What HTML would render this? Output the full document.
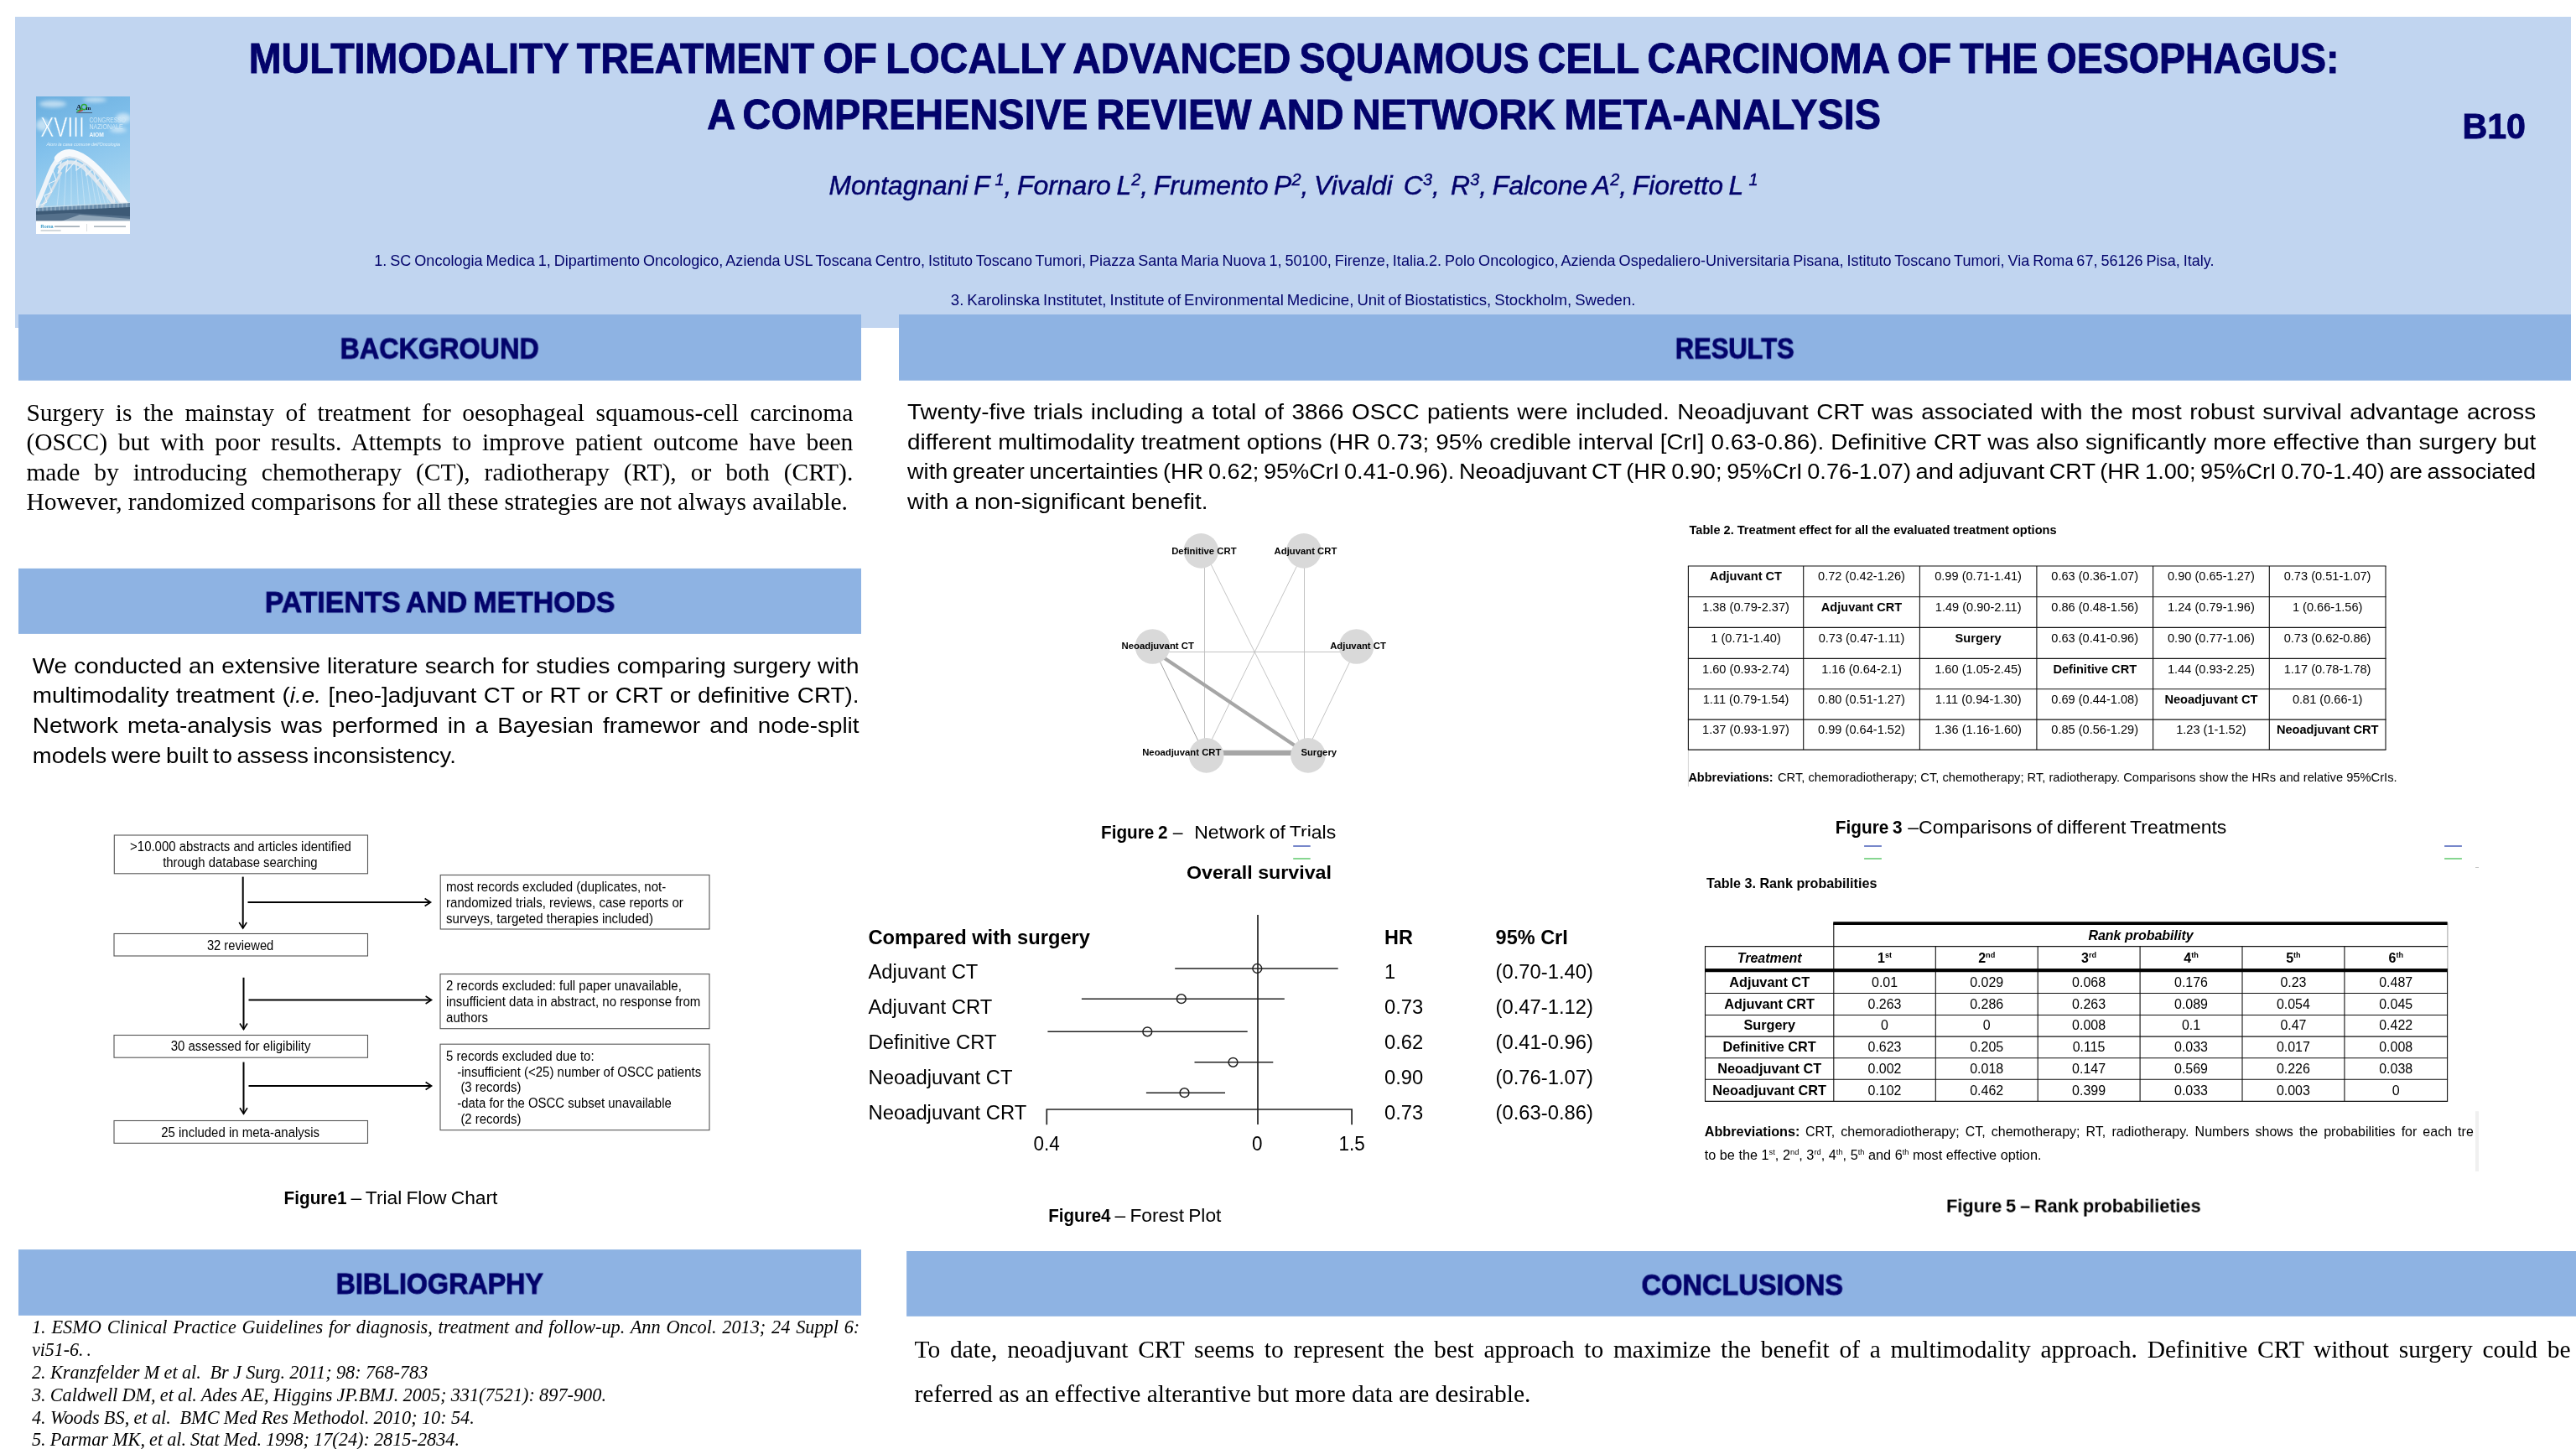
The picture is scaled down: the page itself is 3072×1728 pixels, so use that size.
<!DOCTYPE html>
<html lang="en">
<head>
<meta charset="utf-8">
<title>Multimodality treatment of locally advanced squamous cell carcinoma of the oesophagus</title>
<style>
html,body{margin:0;padding:0;background:#fff;}
body{width:3072px;height:1728px;overflow:hidden;font-family:"Liberation Sans",sans-serif;}
svg{display:block;will-change:transform;}
text{white-space:pre;}
.s{font-family:"Liberation Sans",sans-serif;}
.f{font-family:"Liberation Serif",serif;}
</style>
</head>
<body>
<svg width="3072" height="1728" viewBox="0 0 3072 1728">
<rect x="18.0" y="20.0" width="3048.0" height="371.0" fill="#c1d5f0"/>
<text class="s" font-size="50.10" font-weight="bold" fill="#03036b" transform="translate(296.8,86.9) scale(0.9291,1)" word-spacing="-3.006" stroke="#03036b" stroke-width="0.9">MULTIMODALITY TREATMENT OF LOCALLY ADVANCED SQUAMOUS CELL CARCINOMA OF THE OESOPHAGUS:</text>
<text class="s" font-size="50.10" font-weight="bold" fill="#03036b" transform="translate(843.2,154.3) scale(0.9363,1)" word-spacing="-3.006" stroke="#03036b" stroke-width="0.9">A COMPREHENSIVE REVIEW AND NETWORK META-ANALYSIS</text>
<text class="s" font-size="42.80" font-weight="bold" fill="#03036b" x="2936.5" y="165.1" textLength="75.5" lengthAdjust="spacingAndGlyphs" stroke="#03036b" stroke-width="0.9">B10</text>
<text class="s" font-size="31.30" font-style="italic" fill="#03036b" transform="translate(988.5,231.5) scale(1.0146,1)" word-spacing="-2.191" stroke="#03036b" stroke-width="0.45"><tspan>Montagnani F <tspan font-size="19.5" dy="-10.8">1</tspan><tspan dy="10.8" font-size="31.5">, Fornaro L</tspan><tspan font-size="19.5" dy="-10.8">2</tspan><tspan dy="10.8" font-size="31.5">, Frumento P</tspan><tspan font-size="19.5" dy="-10.8">2</tspan><tspan dy="10.8" font-size="31.5">, Vivaldi  C</tspan><tspan font-size="19.5" dy="-10.8">3</tspan><tspan dy="10.8" font-size="31.5">,  R</tspan><tspan font-size="19.5" dy="-10.8">3</tspan><tspan dy="10.8" font-size="31.5">, Falcone A</tspan><tspan font-size="19.5" dy="-10.8">2</tspan><tspan dy="10.8" font-size="31.5">, Fioretto L </tspan><tspan font-size="19.5" dy="-10.8">1</tspan><tspan dy="10.8" font-size="31.5"></tspan></text>
<text class="s" font-size="18.20" fill="#03036b" transform="translate(446.3,317.0) scale(0.9927,1)" word-spacing="-1.092">1. SC Oncologia Medica 1, Dipartimento Oncologico, Azienda USL Toscana Centro, Istituto Toscano Tumori, Piazza Santa Maria Nuova 1, 50100, Firenze, Italia.2. Polo Oncologico, Azienda Ospedaliero-Universitaria Pisana, Istituto Toscano Tumori, Via Roma 67, 56126 Pisa, Italy.</text>
<text class="s" font-size="18.20" fill="#03036b" transform="translate(1133.8,363.5) scale(1.0218,1)" word-spacing="-1.092">3. Karolinska Institutet, Institute of Environmental Medicine, Unit of Biostatistics, Stockholm, Sweden.</text>
<g id="logo" transform="translate(43,115)">
<defs><linearGradient id="sky" x1="0" y1="0" x2="0.25" y2="1"><stop offset="0" stop-color="#6aaede"/><stop offset="0.4" stop-color="#82c1ec"/><stop offset="0.8" stop-color="#a3d3f0"/><stop offset="1" stop-color="#b4dbf2"/></linearGradient><clipPath id="lc"><rect x="0" y="0" width="112" height="164"/></clipPath><filter id="bl" x="-20%" y="-20%" width="140%" height="140%"><feGaussianBlur stdDeviation="2.2"/></filter></defs>
<g clip-path="url(#lc)">
<rect x="0" y="0" width="112" height="164" fill="url(#sky)"/>
<g filter="url(#bl)" fill="#fff" opacity="0.55"><ellipse cx="20" cy="9" rx="16" ry="4"/><ellipse cx="70" cy="4" rx="14" ry="3"/><ellipse cx="104" cy="26" rx="9" ry="6"/><ellipse cx="8" cy="34" rx="8" ry="7"/><ellipse cx="98" cy="40" rx="10" ry="3"/></g>
<g transform="translate(0,4)">
<g stroke="#eef5fa" stroke-width="0.5" opacity="0.8"><line x1="30" y1="78" x2="24" y2="138"/><line x1="36" y1="76" x2="33" y2="138"/><line x1="42" y1="76" x2="42" y2="138"/><line x1="48" y1="78" x2="51" y2="138"/><line x1="54" y1="82" x2="59" y2="138"/><line x1="60" y1="87" x2="67" y2="138"/><line x1="66" y1="93" x2="74" y2="138"/><line x1="72" y1="100" x2="80" y2="138"/><line x1="78" y1="108" x2="86" y2="138"/><line x1="84" y1="116" x2="91" y2="138"/><line x1="90" y1="124" x2="96" y2="138"/></g>
<path d="M27 82 C35 72 47 72 58 82 C76 99 92 122 104 142" fill="none" stroke="#dbe6ef" stroke-width="4.5"/>
<g stroke="#e6eef5" stroke-width="1.3" fill="none"><path d="M20 80 L30 74 L26 88 L38 72 L36 86 L48 72 L48 84 L58 76 L60 90 L68 82 L72 98 L78 92 L84 110 L88 102 L94 122"/></g>
<path d="M30 86 C24 98 18 112 4 132" fill="none" stroke="#d5e1eb" stroke-width="3"/>
<g stroke="#f1f6fa" stroke-width="1" fill="none"><path d="M20 84 L24 96 L15 100 L19 110 L10 114 L13 122 L4 126"/></g>
<path d="M-2 131 C8 112 12 96 20 80 C24 72 30 66 38 64" fill="none" stroke="#eef4f9" stroke-width="5.5" stroke-linecap="round"/>
<path d="M26 70 C32 63 40 62 48 65 C68 72 92 102 114 137" fill="none" stroke="#f6f9fc" stroke-width="8.5" stroke-linecap="round"/>
<path d="M30 72 C36 68 42 68 48 70 C66 77 88 104 109 138" fill="none" stroke="#d9e4ee" stroke-width="2"/>
</g>
<path d="M0 133 L112 127 L112 149 L0 149 Z" fill="#6a8caa"/>
<path d="M0 137 L112 132 L112 149 L0 149 Z" fill="#3d5a76"/>
<path d="M0 141 L40 139 L112 143 L112 149 L0 149 Z" fill="#54708b"/>
<path d="M30 149 L52 141 L112 146 L112 149 Z" fill="#8fa5b8"/>
<g stroke="#d7e2ea" stroke-width="0.7" opacity="0.8"><line x1="0" y1="132" x2="112" y2="126.5"/><line x1="3" y1="131.8" x2="3" y2="136.9"/><line x1="8" y1="131.6" x2="8" y2="136.6"/><line x1="13" y1="131.3" x2="13" y2="136.4"/><line x1="18" y1="131.1" x2="18" y2="136.2"/><line x1="23" y1="130.8" x2="23" y2="136.0"/><line x1="28" y1="130.6" x2="28" y2="135.7"/><line x1="33" y1="130.3" x2="33" y2="135.5"/><line x1="38" y1="130.1" x2="38" y2="135.3"/><line x1="43" y1="129.8" x2="43" y2="135.1"/><line x1="48" y1="129.6" x2="48" y2="134.8"/><line x1="53" y1="129.3" x2="53" y2="134.6"/><line x1="58" y1="129.1" x2="58" y2="134.4"/><line x1="63" y1="128.8" x2="63" y2="134.2"/><line x1="68" y1="128.6" x2="68" y2="133.9"/><line x1="73" y1="128.3" x2="73" y2="133.7"/><line x1="78" y1="128.1" x2="78" y2="133.5"/><line x1="83" y1="127.8" x2="83" y2="133.3"/><line x1="88" y1="127.6" x2="88" y2="133.0"/><line x1="93" y1="127.3" x2="93" y2="132.8"/><line x1="98" y1="127.1" x2="98" y2="132.6"/><line x1="103" y1="126.8" x2="103" y2="132.4"/><line x1="108" y1="126.6" x2="108" y2="132.1"/></g>
<rect x="0" y="148.4" width="112" height="16" fill="#ffffff"/>
</g>
<text class="s" x="5.2" y="48.4" font-size="34" fill="#fff" stroke="#8cc6ec" stroke-width="0.7" textLength="52.5" lengthAdjust="spacingAndGlyphs">XVIII</text>
<text class="s" x="63.4" y="31" font-size="8.6" fill="#cfe8f7" textLength="43.5" lengthAdjust="spacingAndGlyphs">CONGRESSO</text>
<text class="s" x="63.4" y="39.2" font-size="8.6" fill="#cfe8f7" textLength="40.3" lengthAdjust="spacingAndGlyphs">NAZIONALE</text>
<text class="s" x="63.4" y="48.3" font-size="7.8" font-weight="bold" fill="#f2f9fd" textLength="17.5" lengthAdjust="spacingAndGlyphs">AIOM</text>
<text class="s" x="12.4" y="58.6" font-size="5.4" font-style="italic" fill="#dff0fa" textLength="87.6" lengthAdjust="spacingAndGlyphs">Aiom la casa comune dell'Oncologia</text>
<text class="s" x="5.6" y="156.5" font-size="6.2" font-weight="bold" fill="#3a9ac8" textLength="15" lengthAdjust="spacingAndGlyphs">Roma</text>
<rect x="22" y="154.3" width="30" height="1.7" fill="#8a9aa6" opacity="0.8"/><rect x="5.6" y="159.3" width="24" height="1.3" fill="#a9b4bc" opacity="0.8"/><rect x="69" y="154.3" width="38" height="1.7" fill="#98a6b0" opacity="0.8"/><rect x="60" y="152" width="0.5" height="9" fill="#b5bcc2"/>
<text class="f" x="47.8" y="16.2" font-size="9" font-weight="bold" fill="#0d1b2a">A</text><circle cx="57.3" cy="12.6" r="3.1" fill="none" stroke="#2fa836" stroke-width="1.5"/><text class="f" x="59.6" y="16.2" font-size="7" font-weight="bold" fill="#0d1b2a">m</text>
<path d="M48 17.2 L54 14.6 L55 16.2 L49 18.4 Z" fill="#2fa836"/><path d="M50 18 L55.5 16 L56 17 L51 18.8 Z" fill="#d22"/><rect x="48" y="19" width="19" height="0.6" fill="#223"/>
</g>
<rect x="22.0" y="375.0" width="1005.0" height="78.8" fill="#8eb3e3"/>
<text class="s" font-size="34.30" font-weight="bold" fill="#03036b" transform="translate(405.5,427.5) scale(0.9435,1)" word-spacing="-2.058" stroke="#03036b" stroke-width="0.9">BACKGROUND</text>
<rect x="1072.0" y="375.0" width="1994.0" height="78.8" fill="#8eb3e3"/>
<text class="s" font-size="34.30" font-weight="bold" fill="#03036b" transform="translate(1997.8,427.5) scale(0.9001,1)" word-spacing="-2.058" stroke="#03036b" stroke-width="0.9">RESULTS</text>
<rect x="22.0" y="677.9" width="1005.0" height="78.0" fill="#8eb3e3"/>
<text class="s" font-size="34.30" font-weight="bold" fill="#03036b" transform="translate(315.8,730.1) scale(0.9850,1)" word-spacing="-2.058" stroke="#03036b" stroke-width="0.9">PATIENTS AND METHODS</text>
<rect x="22.0" y="1490.1" width="1005.0" height="78.7" fill="#8eb3e3"/>
<text class="s" font-size="34.30" font-weight="bold" fill="#03036b" transform="translate(400.6,1542.8) scale(0.9408,1)" word-spacing="-2.058" stroke="#03036b" stroke-width="0.9">BIBLIOGRAPHY</text>
<rect x="1081.1" y="1492.0" width="1990.9" height="77.8" fill="#8eb3e3"/>
<text class="s" font-size="34.30" font-weight="bold" fill="#03036b" transform="translate(1957.6,1544.2) scale(0.9486,1)" word-spacing="-2.058" stroke="#03036b" stroke-width="0.9">CONCLUSIONS</text>
<text class="f" font-size="29.50" x="31.4" y="501.5" word-spacing="6.114">Surgery is the mainstay of treatment for oesophageal squamous-cell carcinoma</text>
<text class="f" font-size="29.50" x="31.4" y="537.0" word-spacing="5.312">(OSCC) but with poor results. Attempts to improve patient outcome have been</text>
<text class="f" font-size="29.50" x="31.4" y="572.6" word-spacing="9.630">made by introducing chemotherapy (CT), radiotherapy (RT), or both (CRT).</text>
<text class="f" font-size="29.50" x="31.4" y="608.1" word-spacing="-0.220">However, randomized comparisons for all these strategies are not always available.</text>
<text class="s" font-size="26.30" transform="translate(38.8,909.5) scale(1.0431,1)" word-spacing="-1.841">models were built to assess inconsistency.</text>
<text class="s" font-size="26.30" transform="translate(38.8,802.6) scale(1.0600,1)" word-spacing="0.388">We conducted an extensive literature search for studies comparing surgery with</text>
<text class="s" font-size="26.30" transform="translate(38.8,838.2) scale(1.0600,1)" word-spacing="0.847">multimodality treatment (<tspan font-style="italic">i.e.</tspan> [neo-]adjuvant CT or RT or CRT or definitive CRT).</text>
<text class="s" font-size="26.30" transform="translate(38.8,873.8) scale(1.0600,1)" word-spacing="3.142">Network meta-analysis was performed in a Bayesian framewor and node-split</text>
<text class="s" font-size="26.30" transform="translate(1082.0,607.2) scale(1.0600,1)" word-spacing="-0.311">with a non-significant benefit.</text>
<text class="s" font-size="26.30" transform="translate(1082.0,499.8) scale(1.0600,1)" word-spacing="1.693">Twenty-five trials including a total of 3866 OSCC patients were included. Neoadjuvant CRT was associated with the most robust survival advantage across</text>
<text class="s" font-size="26.30" transform="translate(1082.0,535.5) scale(1.0600,1)" word-spacing="0.296">different multimodality treatment options (HR 0.73; 95% credible interval [CrI] 0.63-0.86). Definitive CRT was also significantly more effective than surgery but</text>
<text class="s" font-size="26.30" transform="translate(1082.0,571.1) scale(1.0321,1)" word-spacing="-1.841">with greater uncertainties (HR 0.62; 95%CrI 0.41-0.96). Neoadjuvant CT (HR 0.90; 95%CrI 0.76-1.07) and adjuvant CRT (HR 1.00; 95%CrI 0.70-1.40) are associated</text>
<rect x="136.3" y="996.0" width="302.2" height="45.8" fill="#fff" stroke="#555" stroke-width="1.1"/>
<rect x="136.0" y="1113.5" width="302.5" height="26.5" fill="#fff" stroke="#555" stroke-width="1.1"/>
<rect x="136.0" y="1234.5" width="302.5" height="26.7" fill="#fff" stroke="#555" stroke-width="1.1"/>
<rect x="136.0" y="1336.5" width="302.5" height="26.8" fill="#fff" stroke="#555" stroke-width="1.1"/>
<rect x="525.2" y="1043.5" width="320.8" height="64.5" fill="#fff" stroke="#555" stroke-width="1.1"/>
<rect x="525.0" y="1161.6" width="321.0" height="65.1" fill="#fff" stroke="#555" stroke-width="1.1"/>
<rect x="525.0" y="1245.2" width="321.0" height="102.5" fill="#fff" stroke="#555" stroke-width="1.1"/>
<text class="s" font-size="16.64" x="155.1" y="1014.7" textLength="263.8" lengthAdjust="spacingAndGlyphs">&gt;10.000 abstracts and articles identified</text>
<text class="s" font-size="16.64" x="194.2" y="1034.1" textLength="184.4" lengthAdjust="spacingAndGlyphs">through database searching</text>
<text class="s" font-size="16.64" x="246.9" y="1132.8" textLength="79.4" lengthAdjust="spacingAndGlyphs">32 reviewed</text>
<text class="s" font-size="16.64" x="203.7" y="1253.0" textLength="166.7" lengthAdjust="spacingAndGlyphs">30 assessed for eligibility</text>
<text class="s" font-size="16.64" x="192.2" y="1355.5" textLength="188.9" lengthAdjust="spacingAndGlyphs">25 included in meta-analysis</text>
<text class="s" font-size="16.64" x="532.1" y="1062.9" textLength="262.1" lengthAdjust="spacingAndGlyphs">most records excluded (duplicates, not-</text>
<text class="s" font-size="16.64" x="532.1" y="1081.8" textLength="282.7" lengthAdjust="spacingAndGlyphs">randomized trials, reviews, case reports or</text>
<text class="s" font-size="16.64" x="532.1" y="1100.7" textLength="246.9" lengthAdjust="spacingAndGlyphs">surveys, targeted therapies included)</text>
<text class="s" font-size="16.64" x="532.1" y="1181.0" textLength="280.7" lengthAdjust="spacingAndGlyphs">2 records excluded: full paper unavailable,</text>
<text class="s" font-size="16.64" x="532.1" y="1199.9" textLength="303.3" lengthAdjust="spacingAndGlyphs">insufficient data in abstract, no response from</text>
<text class="s" font-size="16.64" x="532.1" y="1218.8" textLength="49.8" lengthAdjust="spacingAndGlyphs">authors</text>
<text class="s" font-size="16.64" x="532.1" y="1264.9" textLength="176.5" lengthAdjust="spacingAndGlyphs">5 records excluded due to:</text>
<text class="s" font-size="16.64" x="545.3" y="1283.5" textLength="290.9" lengthAdjust="spacingAndGlyphs">-insufficient (&lt;25) number of OSCC patients</text>
<text class="s" font-size="16.64" x="549.4" y="1302.4" textLength="72.0" lengthAdjust="spacingAndGlyphs">(3 records)</text>
<text class="s" font-size="16.64" x="545.3" y="1320.9" textLength="255.5" lengthAdjust="spacingAndGlyphs">-data for the OSCC subset unavailable</text>
<text class="s" font-size="16.64" x="549.4" y="1339.8" textLength="72.0" lengthAdjust="spacingAndGlyphs">(2 records)</text>
<line x1="289.7" y1="1045.6" x2="289.7" y2="1107.0" stroke="#000" stroke-width="2"/>
<path d="M285.2 1100.0 L289.7 1107.0 L294.2 1100.0" fill="none" stroke="#000" stroke-width="1.6"/>
<line x1="290.5" y1="1165.8" x2="290.5" y2="1227.5" stroke="#000" stroke-width="2"/>
<path d="M286.0 1220.5 L290.5 1227.5 L295.0 1220.5" fill="none" stroke="#000" stroke-width="1.6"/>
<line x1="290.5" y1="1266.6" x2="290.5" y2="1328.3" stroke="#000" stroke-width="2"/>
<path d="M286.0 1321.3 L290.5 1328.3 L295.0 1321.3" fill="none" stroke="#000" stroke-width="1.6"/>
<line x1="295.5" y1="1076.0" x2="512.6" y2="1076.0" stroke="#000" stroke-width="2"/>
<path d="M506.6 1071.5 L513.6 1076.0 L506.6 1080.5" fill="none" stroke="#000" stroke-width="1.6"/>
<line x1="296.5" y1="1192.5" x2="513.6" y2="1192.5" stroke="#000" stroke-width="2"/>
<path d="M507.6 1188.0 L514.6 1192.5 L507.6 1197.0" fill="none" stroke="#000" stroke-width="1.6"/>
<line x1="296.5" y1="1295.0" x2="513.6" y2="1295.0" stroke="#000" stroke-width="2"/>
<path d="M507.6 1290.5 L514.6 1295.0 L507.6 1299.5" fill="none" stroke="#000" stroke-width="1.6"/>
<text class="s" font-size="22.50" font-weight="bold" x="338.6" y="1435.8" textLength="74.9" lengthAdjust="spacingAndGlyphs">Figure1</text>
<text class="s" font-size="22.50" transform="translate(418.4,1435.8) scale(1.0131,1)" word-spacing="-1.125">– Trial Flow Chart</text>
<line x1="1436.5" y1="668.0" x2="1436.5" y2="888.0" stroke="#c2c2c2" stroke-width="1"/>
<line x1="1441.3" y1="667.4" x2="1552.9" y2="891.2" stroke="#c4c4c4" stroke-width="1"/>
<line x1="1550.0" y1="668.0" x2="1441.3" y2="889.7" stroke="#c4c4c4" stroke-width="1"/>
<line x1="1555.5" y1="668.0" x2="1555.5" y2="888.0" stroke="#c2c2c2" stroke-width="1"/>
<line x1="1380.0" y1="777.5" x2="1610.0" y2="777.5" stroke="#c2c2c2" stroke-width="1"/>
<line x1="1380.4" y1="782.8" x2="1431.2" y2="888.3" stroke="#969696" stroke-width="0.9"/>
<line x1="1612.3" y1="783.9" x2="1562.5" y2="886.8" stroke="#c4c4c4" stroke-width="1"/>
<line x1="1386.2" y1="783.3" x2="1551.4" y2="894.1" stroke="#a6a6a6" stroke-width="4.2"/>
<line x1="1450.0" y1="897.8" x2="1548.6" y2="897.8" stroke="#a6a6a6" stroke-width="6.2"/>
<circle cx="1432.3" cy="656.9" r="20.8" fill="#d9d9d9"/>
<circle cx="1554.9" cy="656.9" r="20.8" fill="#d9d9d9"/>
<circle cx="1374.5" cy="771.0" r="20.8" fill="#d9d9d9"/>
<circle cx="1617.6" cy="771.0" r="20.8" fill="#d9d9d9"/>
<circle cx="1438.7" cy="900.9" r="20.8" fill="#d9d9d9"/>
<circle cx="1559.9" cy="900.9" r="20.8" fill="#d9d9d9"/>
<text class="s" font-size="11.44" font-weight="bold" x="1397.2" y="660.5" textLength="77.4" lengthAdjust="spacingAndGlyphs">Definitive CRT</text>
<text class="s" font-size="11.44" font-weight="bold" x="1519.6" y="660.5" textLength="74.7" lengthAdjust="spacingAndGlyphs">Adjuvant CRT</text>
<text class="s" font-size="11.44" font-weight="bold" x="1337.5" y="773.6" textLength="86.4" lengthAdjust="spacingAndGlyphs">Neoadjuvant CT</text>
<text class="s" font-size="11.44" font-weight="bold" x="1586.2" y="773.6" textLength="66.7" lengthAdjust="spacingAndGlyphs">Adjuvant CT</text>
<text class="s" font-size="11.44" font-weight="bold" x="1362.2" y="901.1" textLength="94.2" lengthAdjust="spacingAndGlyphs">Neoadjuvant CRT</text>
<text class="s" font-size="11.44" font-weight="bold" x="1551.4" y="901.1" textLength="42.7" lengthAdjust="spacingAndGlyphs">Surgery</text>
<text class="s" font-size="22.50" font-weight="bold" transform="translate(1313.0,1000.4) scale(0.9201,1)" word-spacing="-1.125">Figure 2</text>
<text class="s" font-size="22.50" x="1398.8" y="1000.4" textLength="11.8" lengthAdjust="spacingAndGlyphs">–</text>
<text class="s" font-size="22.50" transform="translate(1424.2,1000.4) scale(1.0224,1)" word-spacing="-1.125">Network of Trials</text>
<rect x="1541.6" y="997.3" width="21.4" height="32.7" fill="#fff"/>
<line x1="1542.2" y1="1009.0" x2="1562.7" y2="1009.0" stroke="#7787ca" stroke-width="2"/>
<line x1="1542.2" y1="1024.0" x2="1562.7" y2="1024.0" stroke="#86d690" stroke-width="2"/>
<text class="s" font-size="22.88" font-weight="bold" x="1414.9" y="1048.2" textLength="173.1" lengthAdjust="spacingAndGlyphs">Overall survival</text>
<line x1="1500.0" y1="1091.0" x2="1500.0" y2="1341.0" stroke="#222" stroke-width="1.7"/>
<text class="s" font-size="24.44" font-weight="bold" x="1035.5" y="1126.0" textLength="264.5" lengthAdjust="spacingAndGlyphs">Compared with surgery</text>
<text class="s" font-size="24.44" font-weight="bold" x="1651.0" y="1126.0" textLength="33.9" lengthAdjust="spacingAndGlyphs">HR</text>
<text class="s" font-size="24.44" font-weight="bold" x="1783.6" y="1126.0" textLength="86.2" lengthAdjust="spacingAndGlyphs">95% CrI</text>
<text class="s" font-size="24.75" x="1035.5" y="1166.8" textLength="130.9" lengthAdjust="spacingAndGlyphs">Adjuvant CT</text>
<text class="s" font-size="24.75" x="1651.0" y="1166.8" textLength="13.2" lengthAdjust="spacingAndGlyphs">1</text>
<text class="s" font-size="24.75" x="1783.6" y="1166.8" textLength="116.4" lengthAdjust="spacingAndGlyphs">(0.70-1.40)</text>
<line x1="1401.2" y1="1155.0" x2="1595.7" y2="1155.0" stroke="#222" stroke-width="1.6"/>
<circle cx="1499.3" cy="1155.0" r="5.4" fill="none" stroke="#222" stroke-width="1.5"/>
<text class="s" font-size="24.75" x="1035.5" y="1208.7" textLength="147.7" lengthAdjust="spacingAndGlyphs">Adjuvant CRT</text>
<text class="s" font-size="24.75" x="1651.0" y="1208.7" textLength="46.3" lengthAdjust="spacingAndGlyphs">0.73</text>
<text class="s" font-size="24.75" x="1783.6" y="1208.7" textLength="116.4" lengthAdjust="spacingAndGlyphs">(0.47-1.12)</text>
<line x1="1289.9" y1="1191.2" x2="1531.8" y2="1191.2" stroke="#222" stroke-width="1.6"/>
<circle cx="1408.8" cy="1191.2" r="5.4" fill="none" stroke="#222" stroke-width="1.5"/>
<text class="s" font-size="24.75" x="1035.5" y="1250.7" textLength="153.0" lengthAdjust="spacingAndGlyphs">Definitive CRT</text>
<text class="s" font-size="24.75" x="1651.0" y="1250.7" textLength="46.3" lengthAdjust="spacingAndGlyphs">0.62</text>
<text class="s" font-size="24.75" x="1783.6" y="1250.7" textLength="116.4" lengthAdjust="spacingAndGlyphs">(0.41-0.96)</text>
<line x1="1249.4" y1="1230.3" x2="1487.7" y2="1230.3" stroke="#222" stroke-width="1.6"/>
<circle cx="1368.3" cy="1230.3" r="5.4" fill="none" stroke="#222" stroke-width="1.5"/>
<text class="s" font-size="24.75" x="1035.5" y="1293.0" textLength="172.0" lengthAdjust="spacingAndGlyphs">Neoadjuvant CT</text>
<text class="s" font-size="24.75" x="1651.0" y="1293.0" textLength="46.3" lengthAdjust="spacingAndGlyphs">0.90</text>
<text class="s" font-size="24.75" x="1783.6" y="1293.0" textLength="116.4" lengthAdjust="spacingAndGlyphs">(0.76-1.07)</text>
<line x1="1424.5" y1="1266.8" x2="1518.3" y2="1266.8" stroke="#222" stroke-width="1.6"/>
<circle cx="1470.5" cy="1266.8" r="5.4" fill="none" stroke="#222" stroke-width="1.5"/>
<text class="s" font-size="24.75" x="1035.5" y="1334.6" textLength="188.7" lengthAdjust="spacingAndGlyphs">Neoadjuvant CRT</text>
<text class="s" font-size="24.75" x="1651.0" y="1334.6" textLength="46.3" lengthAdjust="spacingAndGlyphs">0.73</text>
<text class="s" font-size="24.75" x="1783.6" y="1334.6" textLength="116.4" lengthAdjust="spacingAndGlyphs">(0.63-0.86)</text>
<line x1="1366.9" y1="1303.2" x2="1461.0" y2="1303.2" stroke="#222" stroke-width="1.6"/>
<circle cx="1412.5" cy="1303.2" r="5.4" fill="none" stroke="#222" stroke-width="1.5"/>
<path d="M1248.3 1341.2 V1323 H1612.1 V1341.2" fill="none" stroke="#222" stroke-width="1.7"/>
<text class="s" font-size="23.40" x="1232.4" y="1372.2" textLength="31.3" lengthAdjust="spacingAndGlyphs">0.4</text>
<text class="s" font-size="23.40" x="1493.0" y="1372.2" textLength="12.5" lengthAdjust="spacingAndGlyphs">0</text>
<text class="s" font-size="23.40" x="1596.4" y="1372.2" textLength="31.3" lengthAdjust="spacingAndGlyphs">1.5</text>
<text class="s" font-size="22.50" font-weight="bold" x="1250.2" y="1456.9" textLength="74.4" lengthAdjust="spacingAndGlyphs">Figure4</text>
<text class="s" font-size="22.50" transform="translate(1329.6,1456.9) scale(1.0127,1)" word-spacing="-1.125">– Forest Plot</text>
<text class="s" font-size="14.56" font-weight="bold" x="2014.5" y="637.3" textLength="438.1" lengthAdjust="spacingAndGlyphs">Table 2. Treatment effect for all the evaluated treatment options</text>
<line x1="2013.4" y1="675.0" x2="2013.4" y2="894.1" stroke="#111" stroke-width="1.1"/>
<line x1="2150.7" y1="675.0" x2="2150.7" y2="894.1" stroke="#111" stroke-width="1.1"/>
<line x1="2289.4" y1="675.0" x2="2289.4" y2="894.1" stroke="#111" stroke-width="1.1"/>
<line x1="2428.9" y1="675.0" x2="2428.9" y2="894.1" stroke="#111" stroke-width="1.1"/>
<line x1="2567.6" y1="675.0" x2="2567.6" y2="894.1" stroke="#111" stroke-width="1.1"/>
<line x1="2706.3" y1="675.0" x2="2706.3" y2="894.1" stroke="#111" stroke-width="1.1"/>
<line x1="2845.0" y1="675.0" x2="2845.0" y2="894.1" stroke="#111" stroke-width="1.1"/>
<line x1="2012.9" y1="675.0" x2="2845.5" y2="675.0" stroke="#111" stroke-width="1.1"/>
<line x1="2012.9" y1="711.7" x2="2845.5" y2="711.7" stroke="#111" stroke-width="1.1"/>
<line x1="2012.9" y1="748.4" x2="2845.5" y2="748.4" stroke="#111" stroke-width="1.1"/>
<line x1="2012.9" y1="785.4" x2="2845.5" y2="785.4" stroke="#111" stroke-width="1.1"/>
<line x1="2012.9" y1="821.7" x2="2845.5" y2="821.7" stroke="#111" stroke-width="1.1"/>
<line x1="2012.9" y1="858.1" x2="2845.5" y2="858.1" stroke="#111" stroke-width="1.1"/>
<line x1="2012.9" y1="894.1" x2="2845.5" y2="894.1" stroke="#111" stroke-width="1.1"/>
<text class="s" font-size="15.18" font-weight="bold" x="2039.1" y="692.1" textLength="85.9" lengthAdjust="spacingAndGlyphs">Adjuvant CT</text>
<text class="s" font-size="15.18" x="2168.1" y="692.1" textLength="103.8" lengthAdjust="spacingAndGlyphs">0.72 (0.42-1.26)</text>
<text class="s" font-size="15.18" x="2307.2" y="692.1" textLength="103.8" lengthAdjust="spacingAndGlyphs">0.99 (0.71-1.41)</text>
<text class="s" font-size="15.18" x="2446.3" y="692.1" textLength="103.8" lengthAdjust="spacingAndGlyphs">0.63 (0.36-1.07)</text>
<text class="s" font-size="15.18" x="2585.0" y="692.1" textLength="103.8" lengthAdjust="spacingAndGlyphs">0.90 (0.65-1.27)</text>
<text class="s" font-size="15.18" x="2723.7" y="692.1" textLength="103.8" lengthAdjust="spacingAndGlyphs">0.73 (0.51-1.07)</text>
<text class="s" font-size="15.18" x="2030.1" y="728.8" textLength="103.8" lengthAdjust="spacingAndGlyphs">1.38 (0.79-2.37)</text>
<text class="s" font-size="15.18" font-weight="bold" x="2171.8" y="728.8" textLength="96.5" lengthAdjust="spacingAndGlyphs">Adjuvant CRT</text>
<text class="s" font-size="15.18" x="2307.8" y="728.8" textLength="102.7" lengthAdjust="spacingAndGlyphs">1.49 (0.90-2.11)</text>
<text class="s" font-size="15.18" x="2446.3" y="728.8" textLength="103.8" lengthAdjust="spacingAndGlyphs">0.86 (0.48-1.56)</text>
<text class="s" font-size="15.18" x="2585.0" y="728.8" textLength="103.8" lengthAdjust="spacingAndGlyphs">1.24 (0.79-1.96)</text>
<text class="s" font-size="15.18" x="2733.9" y="728.8" textLength="83.5" lengthAdjust="spacingAndGlyphs">1 (0.66-1.56)</text>
<text class="s" font-size="15.18" x="2040.3" y="765.5" textLength="83.5" lengthAdjust="spacingAndGlyphs">1 (0.71-1.40)</text>
<text class="s" font-size="15.18" x="2168.7" y="765.5" textLength="102.7" lengthAdjust="spacingAndGlyphs">0.73 (0.47-1.11)</text>
<text class="s" font-size="15.18" font-weight="bold" x="2331.6" y="765.5" textLength="55.1" lengthAdjust="spacingAndGlyphs">Surgery</text>
<text class="s" font-size="15.18" x="2446.3" y="765.5" textLength="103.8" lengthAdjust="spacingAndGlyphs">0.63 (0.41-0.96)</text>
<text class="s" font-size="15.18" x="2585.0" y="765.5" textLength="103.8" lengthAdjust="spacingAndGlyphs">0.90 (0.77-1.06)</text>
<text class="s" font-size="15.18" x="2723.7" y="765.5" textLength="103.8" lengthAdjust="spacingAndGlyphs">0.73 (0.62-0.86)</text>
<text class="s" font-size="15.18" x="2030.1" y="802.5" textLength="103.8" lengthAdjust="spacingAndGlyphs">1.60 (0.93-2.74)</text>
<text class="s" font-size="15.18" x="2172.2" y="802.5" textLength="95.7" lengthAdjust="spacingAndGlyphs">1.16 (0.64-2.1)</text>
<text class="s" font-size="15.18" x="2307.2" y="802.5" textLength="103.8" lengthAdjust="spacingAndGlyphs">1.60 (1.05-2.45)</text>
<text class="s" font-size="15.18" font-weight="bold" x="2448.4" y="802.5" textLength="99.7" lengthAdjust="spacingAndGlyphs">Definitive CRT</text>
<text class="s" font-size="15.18" x="2585.0" y="802.5" textLength="103.8" lengthAdjust="spacingAndGlyphs">1.44 (0.93-2.25)</text>
<text class="s" font-size="15.18" x="2723.7" y="802.5" textLength="103.8" lengthAdjust="spacingAndGlyphs">1.17 (0.78-1.78)</text>
<text class="s" font-size="15.18" x="2030.7" y="838.8" textLength="102.7" lengthAdjust="spacingAndGlyphs">1.11 (0.79-1.54)</text>
<text class="s" font-size="15.18" x="2168.1" y="838.8" textLength="103.8" lengthAdjust="spacingAndGlyphs">0.80 (0.51-1.27)</text>
<text class="s" font-size="15.18" x="2307.8" y="838.8" textLength="102.7" lengthAdjust="spacingAndGlyphs">1.11 (0.94-1.30)</text>
<text class="s" font-size="15.18" x="2446.3" y="838.8" textLength="103.8" lengthAdjust="spacingAndGlyphs">0.69 (0.44-1.08)</text>
<text class="s" font-size="15.18" font-weight="bold" x="2581.4" y="838.8" textLength="111.1" lengthAdjust="spacingAndGlyphs">Neoadjuvant CT</text>
<text class="s" font-size="15.18" x="2733.9" y="838.8" textLength="83.5" lengthAdjust="spacingAndGlyphs">0.81 (0.66-1)</text>
<text class="s" font-size="15.18" x="2030.1" y="875.2" textLength="103.8" lengthAdjust="spacingAndGlyphs">1.37 (0.93-1.97)</text>
<text class="s" font-size="15.18" x="2168.1" y="875.2" textLength="103.8" lengthAdjust="spacingAndGlyphs">0.99 (0.64-1.52)</text>
<text class="s" font-size="15.18" x="2307.2" y="875.2" textLength="103.8" lengthAdjust="spacingAndGlyphs">1.36 (1.16-1.60)</text>
<text class="s" font-size="15.18" x="2446.3" y="875.2" textLength="103.8" lengthAdjust="spacingAndGlyphs">0.85 (0.56-1.29)</text>
<text class="s" font-size="15.18" x="2595.2" y="875.2" textLength="83.5" lengthAdjust="spacingAndGlyphs">1.23 (1-1.52)</text>
<text class="s" font-size="15.18" font-weight="bold" x="2714.9" y="875.2" textLength="121.6" lengthAdjust="spacingAndGlyphs">Neoadjuvant CRT</text>
<line x1="2013.4" y1="895.0" x2="2013.4" y2="938.0" stroke="#d4d4d4" stroke-width="1"/>
<text class="s" font-size="15.18" font-weight="bold" x="2013.4" y="932.2" textLength="101.3" lengthAdjust="spacingAndGlyphs">Abbreviations:</text>
<text class="s" font-size="15.18" x="2120.0" y="932.2" textLength="738.6" lengthAdjust="spacingAndGlyphs">CRT, chemoradiotherapy; CT, chemotherapy; RT, radiotherapy. Comparisons show the HRs and relative 95%CrIs.</text>
<text class="s" font-size="22.50" font-weight="bold" transform="translate(2188.8,993.5) scale(0.9247,1)" word-spacing="-1.125">Figure 3</text>
<text class="s" font-size="22.50" transform="translate(2275.3,993.5) scale(1.0200,1)" word-spacing="-1.125">–Comparisons of different Treatments</text>
<line x1="2223.1" y1="1009.0" x2="2243.9" y2="1009.0" stroke="#7787ca" stroke-width="2"/>
<line x1="2223.1" y1="1024.0" x2="2243.9" y2="1024.0" stroke="#86d690" stroke-width="2"/>
<line x1="2915.1" y1="1009.0" x2="2935.9" y2="1009.0" stroke="#7787ca" stroke-width="2"/>
<line x1="2915.1" y1="1024.0" x2="2935.9" y2="1024.0" stroke="#86d690" stroke-width="2"/>
<line x1="2952.0" y1="1034.5" x2="2956.0" y2="1034.5" stroke="#c4c4c4" stroke-width="1"/>
<text class="s" font-size="16.64" font-weight="bold" x="2035.0" y="1058.7" textLength="203.4" lengthAdjust="spacingAndGlyphs">Table 3. Rank probabilities</text>
<line x1="2033.5" y1="1128.6" x2="2033.5" y2="1313.4" stroke="#111" stroke-width="1.1"/>
<line x1="2186.8" y1="1100.6" x2="2186.8" y2="1313.4" stroke="#111" stroke-width="1.1"/>
<line x1="2308.3" y1="1128.6" x2="2308.3" y2="1313.4" stroke="#111" stroke-width="1.1"/>
<line x1="2430.2" y1="1128.6" x2="2430.2" y2="1313.4" stroke="#111" stroke-width="1.1"/>
<line x1="2552.1" y1="1128.6" x2="2552.1" y2="1313.4" stroke="#111" stroke-width="1.1"/>
<line x1="2674.0" y1="1128.6" x2="2674.0" y2="1313.4" stroke="#111" stroke-width="1.1"/>
<line x1="2795.9" y1="1128.6" x2="2795.9" y2="1313.4" stroke="#111" stroke-width="1.1"/>
<line x1="2918.6" y1="1100.6" x2="2918.6" y2="1313.4" stroke="#111" stroke-width="1.1"/>
<line x1="2918.6" y1="1100.6" x2="2918.6" y2="1155.7" stroke="#d0d0d0" stroke-width="1.1"/>
<line x1="2033.0" y1="1128.6" x2="2919.1" y2="1128.6" stroke="#111" stroke-width="1.1"/>
<line x1="2033.0" y1="1155.7" x2="2919.1" y2="1155.7" stroke="#111" stroke-width="1.1"/>
<line x1="2033.0" y1="1184.5" x2="2919.1" y2="1184.5" stroke="#111" stroke-width="1.1"/>
<line x1="2033.0" y1="1210.5" x2="2919.1" y2="1210.5" stroke="#111" stroke-width="1.1"/>
<line x1="2033.0" y1="1236.1" x2="2919.1" y2="1236.1" stroke="#111" stroke-width="1.1"/>
<line x1="2033.0" y1="1261.7" x2="2919.1" y2="1261.7" stroke="#111" stroke-width="1.1"/>
<line x1="2033.0" y1="1287.3" x2="2919.1" y2="1287.3" stroke="#111" stroke-width="1.1"/>
<line x1="2033.0" y1="1313.4" x2="2919.1" y2="1313.4" stroke="#111" stroke-width="1.1"/>
<line x1="2186.3" y1="1101.1" x2="2918.6" y2="1101.1" stroke="#000" stroke-width="3.7"/>
<line x1="2033.0" y1="1157.2" x2="2918.6" y2="1157.2" stroke="#000" stroke-width="4"/>
<text class="s" font-size="16.64" font-weight="bold" font-style="italic" x="2490.4" y="1120.8" textLength="125.2" lengthAdjust="spacingAndGlyphs">Rank probability</text>
<text class="s" font-size="16.64" font-weight="bold" font-style="italic" x="2071.7" y="1148.0" textLength="77.0" lengthAdjust="spacingAndGlyphs">Treatment</text>
<text class="s" font-size="16.64" font-weight="bold" x="2239.0" y="1148.0" textLength="17.0" lengthAdjust="spacingAndGlyphs">1<tspan font-size="9.5" dy="-6">st</tspan></text>
<text class="s" font-size="16.64" font-weight="bold" x="2359.2" y="1148.0" textLength="20.1" lengthAdjust="spacingAndGlyphs">2<tspan font-size="9.5" dy="-6">nd</tspan></text>
<text class="s" font-size="16.64" font-weight="bold" x="2482.1" y="1148.0" textLength="18.0" lengthAdjust="spacingAndGlyphs">3<tspan font-size="9.5" dy="-6">rd</tspan></text>
<text class="s" font-size="16.64" font-weight="bold" x="2604.3" y="1148.0" textLength="17.5" lengthAdjust="spacingAndGlyphs">4<tspan font-size="9.5" dy="-6">th</tspan></text>
<text class="s" font-size="16.64" font-weight="bold" x="2726.2" y="1148.0" textLength="17.5" lengthAdjust="spacingAndGlyphs">5<tspan font-size="9.5" dy="-6">th</tspan></text>
<text class="s" font-size="16.64" font-weight="bold" x="2848.5" y="1148.0" textLength="17.5" lengthAdjust="spacingAndGlyphs">6<tspan font-size="9.5" dy="-6">th</tspan></text>
<text class="s" font-size="16.95" font-weight="bold" x="2062.2" y="1176.7" textLength="95.9" lengthAdjust="spacingAndGlyphs">Adjuvant CT</text>
<text class="s" font-size="16.64" x="2232.0" y="1176.7" textLength="31.1" lengthAdjust="spacingAndGlyphs">0.01</text>
<text class="s" font-size="16.64" x="2349.2" y="1176.7" textLength="40.0" lengthAdjust="spacingAndGlyphs">0.029</text>
<text class="s" font-size="16.64" x="2471.1" y="1176.7" textLength="40.0" lengthAdjust="spacingAndGlyphs">0.068</text>
<text class="s" font-size="16.64" x="2593.0" y="1176.7" textLength="40.0" lengthAdjust="spacingAndGlyphs">0.176</text>
<text class="s" font-size="16.64" x="2719.4" y="1176.7" textLength="31.1" lengthAdjust="spacingAndGlyphs">0.23</text>
<text class="s" font-size="16.64" x="2837.2" y="1176.7" textLength="40.0" lengthAdjust="spacingAndGlyphs">0.487</text>
<text class="s" font-size="16.95" font-weight="bold" x="2056.3" y="1202.7" textLength="107.7" lengthAdjust="spacingAndGlyphs">Adjuvant CRT</text>
<text class="s" font-size="16.64" x="2227.5" y="1202.7" textLength="40.0" lengthAdjust="spacingAndGlyphs">0.263</text>
<text class="s" font-size="16.64" x="2349.2" y="1202.7" textLength="40.0" lengthAdjust="spacingAndGlyphs">0.286</text>
<text class="s" font-size="16.64" x="2471.1" y="1202.7" textLength="40.0" lengthAdjust="spacingAndGlyphs">0.263</text>
<text class="s" font-size="16.64" x="2593.0" y="1202.7" textLength="40.0" lengthAdjust="spacingAndGlyphs">0.089</text>
<text class="s" font-size="16.64" x="2714.9" y="1202.7" textLength="40.0" lengthAdjust="spacingAndGlyphs">0.054</text>
<text class="s" font-size="16.64" x="2837.2" y="1202.7" textLength="40.0" lengthAdjust="spacingAndGlyphs">0.045</text>
<text class="s" font-size="16.95" font-weight="bold" x="2079.4" y="1228.0" textLength="61.6" lengthAdjust="spacingAndGlyphs">Surgery</text>
<text class="s" font-size="16.64" x="2243.1" y="1228.0" textLength="8.9" lengthAdjust="spacingAndGlyphs">0</text>
<text class="s" font-size="16.64" x="2364.8" y="1228.0" textLength="8.9" lengthAdjust="spacingAndGlyphs">0</text>
<text class="s" font-size="16.64" x="2471.1" y="1228.0" textLength="40.0" lengthAdjust="spacingAndGlyphs">0.008</text>
<text class="s" font-size="16.64" x="2601.9" y="1228.0" textLength="22.2" lengthAdjust="spacingAndGlyphs">0.1</text>
<text class="s" font-size="16.64" x="2719.4" y="1228.0" textLength="31.1" lengthAdjust="spacingAndGlyphs">0.47</text>
<text class="s" font-size="16.64" x="2837.2" y="1228.0" textLength="40.0" lengthAdjust="spacingAndGlyphs">0.422</text>
<text class="s" font-size="16.95" font-weight="bold" x="2054.5" y="1254.0" textLength="111.3" lengthAdjust="spacingAndGlyphs">Definitive CRT</text>
<text class="s" font-size="16.64" x="2227.5" y="1254.0" textLength="40.0" lengthAdjust="spacingAndGlyphs">0.623</text>
<text class="s" font-size="16.64" x="2349.2" y="1254.0" textLength="40.0" lengthAdjust="spacingAndGlyphs">0.205</text>
<text class="s" font-size="16.64" x="2471.7" y="1254.0" textLength="38.8" lengthAdjust="spacingAndGlyphs">0.115</text>
<text class="s" font-size="16.64" x="2593.0" y="1254.0" textLength="40.0" lengthAdjust="spacingAndGlyphs">0.033</text>
<text class="s" font-size="16.64" x="2714.9" y="1254.0" textLength="40.0" lengthAdjust="spacingAndGlyphs">0.017</text>
<text class="s" font-size="16.64" x="2837.2" y="1254.0" textLength="40.0" lengthAdjust="spacingAndGlyphs">0.008</text>
<text class="s" font-size="16.95" font-weight="bold" x="2048.2" y="1279.6" textLength="124.0" lengthAdjust="spacingAndGlyphs">Neoadjuvant CT</text>
<text class="s" font-size="16.64" x="2227.5" y="1279.6" textLength="40.0" lengthAdjust="spacingAndGlyphs">0.002</text>
<text class="s" font-size="16.64" x="2349.2" y="1279.6" textLength="40.0" lengthAdjust="spacingAndGlyphs">0.018</text>
<text class="s" font-size="16.64" x="2471.1" y="1279.6" textLength="40.0" lengthAdjust="spacingAndGlyphs">0.147</text>
<text class="s" font-size="16.64" x="2593.0" y="1279.6" textLength="40.0" lengthAdjust="spacingAndGlyphs">0.569</text>
<text class="s" font-size="16.64" x="2714.9" y="1279.6" textLength="40.0" lengthAdjust="spacingAndGlyphs">0.226</text>
<text class="s" font-size="16.64" x="2837.2" y="1279.6" textLength="40.0" lengthAdjust="spacingAndGlyphs">0.038</text>
<text class="s" font-size="16.95" font-weight="bold" x="2042.3" y="1305.6" textLength="135.7" lengthAdjust="spacingAndGlyphs">Neoadjuvant CRT</text>
<text class="s" font-size="16.64" x="2227.5" y="1305.6" textLength="40.0" lengthAdjust="spacingAndGlyphs">0.102</text>
<text class="s" font-size="16.64" x="2349.2" y="1305.6" textLength="40.0" lengthAdjust="spacingAndGlyphs">0.462</text>
<text class="s" font-size="16.64" x="2471.1" y="1305.6" textLength="40.0" lengthAdjust="spacingAndGlyphs">0.399</text>
<text class="s" font-size="16.64" x="2593.0" y="1305.6" textLength="40.0" lengthAdjust="spacingAndGlyphs">0.033</text>
<text class="s" font-size="16.64" x="2714.9" y="1305.6" textLength="40.0" lengthAdjust="spacingAndGlyphs">0.003</text>
<text class="s" font-size="16.64" x="2852.8" y="1305.6" textLength="8.9" lengthAdjust="spacingAndGlyphs">0</text>
<text class="s" font-size="16.64" font-weight="bold" x="2032.7" y="1355.3" textLength="113.8" lengthAdjust="spacingAndGlyphs">Abbreviations:</text>
<text class="s" font-size="16.64" transform="translate(2153.0,1355.3) scale(0.9615,1)" word-spacing="2.738">CRT, chemoradiotherapy; CT, chemotherapy; RT, radiotherapy. Numbers shows the probabilities for each tre</text>
<text class="s" font-size="16.64" x="2032.7" y="1383.2" textLength="401.8" lengthAdjust="spacingAndGlyphs">to be the 1<tspan font-size="9.5" dy="-6">st</tspan><tspan dy="6">, </tspan>2<tspan font-size="9.5" dy="-6">nd</tspan><tspan dy="6">, </tspan>3<tspan font-size="9.5" dy="-6">rd</tspan><tspan dy="6">, </tspan>4<tspan font-size="9.5" dy="-6">th</tspan><tspan dy="6">, </tspan>5<tspan font-size="9.5" dy="-6">th</tspan><tspan dy="6"> and </tspan>6<tspan font-size="9.5" dy="-6">th</tspan><tspan dy="6"> most effective option.</tspan></text>
<rect x="2951.9" y="1325.2" width="4.1" height="71.8" fill="#f0f0f0"/>
<text class="s" font-size="22.50" font-weight="bold" transform="translate(2321.1,1445.6) scale(0.9620,1)" word-spacing="-1.125">Figure 5 – Rank probabilieties</text>
<text class="f" font-size="22.30" font-style="italic" x="37.9" y="1590.1" word-spacing="1.212">1. ESMO Clinical Practice Guidelines for diagnosis, treatment and follow-up. Ann Oncol. 2013; 24 Suppl 6:</text>
<text class="f" font-size="22.30" font-style="italic" transform="translate(37.9,1616.9) scale(0.9858,1)" word-spacing="-1.561">vi51-6. .</text>
<text class="f" font-size="22.30" font-style="italic" x="37.9" y="1643.8" word-spacing="-0.293">2. Kranzfelder M et al.  Br J Surg. 2011; 98: 768-783</text>
<text class="f" font-size="22.30" font-style="italic" x="37.9" y="1670.6" word-spacing="-0.436">3. Caldwell DM, et al. Ades AE, Higgins JP.BMJ. 2005; 331(7521): 897-900.</text>
<text class="f" font-size="22.30" font-style="italic" x="37.9" y="1697.5" word-spacing="-0.270">4. Woods BS, et al.  BMC Med Res Methodol. 2010; 10: 54.</text>
<text class="f" font-size="22.30" font-style="italic" x="37.9" y="1724.3" word-spacing="-0.561">5. Parmar MK, et al. Stat Med. 1998; 17(24): 2815-2834.</text>
<text class="f" font-size="29.50" x="1090.5" y="1619.4" word-spacing="4.372">To date, neoadjuvant CRT seems to represent the best approach to maximize the benefit of a multimodality approach. Definitive CRT without surgery could be</text>
<text class="f" font-size="29.50" x="1090.5" y="1671.8" word-spacing="-0.183">referred as an effective alterantive but more data are desirable.</text>
</svg>
</body>
</html>
